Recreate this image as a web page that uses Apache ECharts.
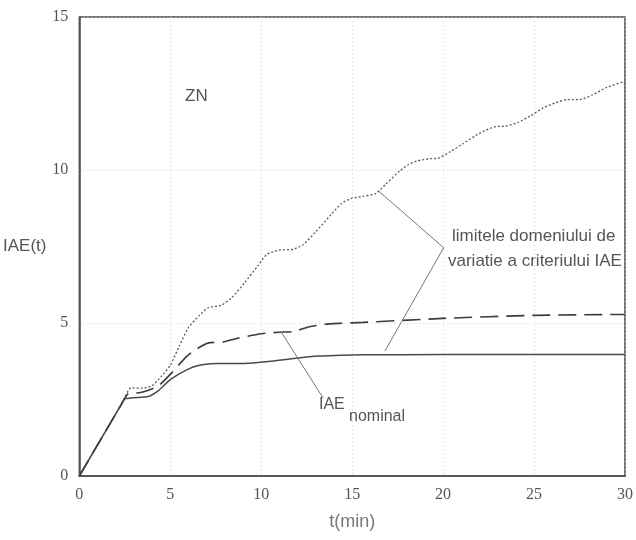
<!DOCTYPE html>
<html>
<head>
<meta charset="utf-8">
<script src="https://cdn.jsdelivr.net/npm/echarts@6/dist/echarts.min.js"></script>
<style>
  html, body { margin: 0; padding: 0; background: #fff; }
  #chart { width: 636px; height: 540px; }
</style>
</head>
<body>
<div id="chart"></div>
<script>
// Time axis (minutes) and tick labels
const xTicks = [0, 5, 10, 15, 20, 25, 30];
const yTicks = [0, 5, 10, 15];

// Upper limit of the IAE variation domain (dotted)
const upperT = [0, 2.3, 2.85, 3.5, 4.0, 4.5, 5.0, 5.5, 6.0, 6.6, 7.1, 7.8, 8.4, 9.1, 9.8, 10.3, 11.0, 11.75, 12.3, 13.0, 13.9, 14.4, 14.9, 15.6, 16.3, 16.85, 17.6, 18.1, 18.6, 19.3, 19.7, 20.4, 21.1, 21.8, 22.35, 22.9, 23.4, 24.1, 24.8, 25.5, 26.2, 26.8, 27.5, 28.2, 29.0, 30];
const upperIAE = [0, 2.33, 2.88, 2.87, 2.95, 3.25, 3.62, 4.25, 4.85, 5.25, 5.5, 5.58, 5.84, 6.33, 6.86, 7.24, 7.38, 7.41, 7.56, 7.98, 8.58, 8.9, 9.06, 9.14, 9.23, 9.54, 9.96, 10.18, 10.3, 10.37, 10.38, 10.6, 10.86, 11.13, 11.3, 11.42, 11.43, 11.55, 11.77, 12.03, 12.2, 12.3, 12.3, 12.45, 12.7, 12.9];

// Nominal IAE (dashed)
const nominalT = [0, 2.3, 2.7, 3.3, 3.8, 4.33, 5.0, 5.9, 6.45, 7.1, 7.9, 8.7, 10.0, 11.0, 11.75, 12.6, 13.5, 14.4, 15.6, 20, 25, 30];
const nominalIAE = [0, 2.33, 2.7, 2.72, 2.8, 2.94, 3.32, 3.91, 4.15, 4.35, 4.38, 4.5, 4.65, 4.7, 4.72, 4.87, 4.96, 4.99, 5.02, 5.15, 5.25, 5.28];

// Lower limit of the IAE variation domain (solid)
const lowerT = [0, 2.3, 2.5, 3.8, 4.33, 5.0, 5.9, 6.6, 7.5, 8.2, 9.1, 10.5, 11.9, 13.2, 14.4, 15.6, 20, 25, 30];
const lowerIAE = [0, 2.33, 2.52, 2.6, 2.78, 3.15, 3.47, 3.62, 3.68, 3.68, 3.68, 3.75, 3.85, 3.92, 3.95, 3.96, 3.97, 3.97, 3.97];

const pairs = (xs, ys) => xs.map((x, i) => [x, ys[i]]);

// Linear interpolation on a curve, used to anchor the leader lines
function valueAt(xs, ys, t) {
  for (let i = 1; i < xs.length; i++) {
    if (t <= xs[i]) {
      const f = (t - xs[i - 1]) / (xs[i] - xs[i - 1]);
      return ys[i - 1] + f * (ys[i] - ys[i - 1]);
    }
  }
  return ys[ys.length - 1];
}

// Leader-line anchors (time, IAE)
const limitsLabelPoint = [20.03, 7.46];
const nominalLabelPoint = [13.4, 2.55];
const upperAnchorT = 16.45;
const lowerAnchorT = 16.8;
const nominalAnchorT = 11.1;

const ink = '#4a4a4a';
const textColor = '#555';
const tickFont = { fontFamily: 'Liberation Serif', fontSize: 16, color: textColor };

const chart = echarts.init(document.getElementById('chart'), null, { renderer: 'canvas' });

chart.setOption({
  animation: false,
  backgroundColor: '#fff',
  grid: {
    left: 65, right: 5, top: 17, bottom: 64,
    show: true, borderColor: ink, borderWidth: 1.5, backgroundColor: 'transparent'
  },
  xAxis: {
    type: 'value', min: xTicks[0], max: xTicks[xTicks.length - 1], interval: 5,
    name: 't(min)', nameLocation: 'middle', nameGap: 46,
    nameTextStyle: { fontFamily: 'Liberation Sans', fontSize: 18, color: '#777', verticalAlign: 'middle' },
    axisLine: { show: true, lineStyle: { color: ink, width: 1.5 } },
    axisTick: { show: false },
    axisLabel: { ...tickFont, margin: 11 },
    splitLine: { show: true, lineStyle: { color: '#cfcfcf', type: [1, 3], width: 1 } }
  },
  yAxis: {
    type: 'value', min: yTicks[0], max: yTicks[yTicks.length - 1], interval: 5,
    name: 'IAE(t)', nameLocation: 'middle', nameGap: 36, nameRotate: 0,
    nameTextStyle: { fontFamily: 'Liberation Sans', fontSize: 17, color: textColor, align: 'center', verticalAlign: 'middle' },
    axisLine: { show: true, lineStyle: { color: ink, width: 1.5 } },
    axisTick: { show: false },
    axisLabel: { ...tickFont, margin: 11 },
    splitLine: { show: true, lineStyle: { color: '#cfcfcf', type: [1, 3], width: 1 } }
  },
  series: [
    {
      name: 'upper', type: 'line', data: pairs(upperT, upperIAE),
      symbol: 'none', smooth: 0.2,
      lineStyle: { color: '#5a5a5a', width: 1.3, type: [2, 2] }
    },
    {
      name: 'lower', type: 'line', data: pairs(lowerT, lowerIAE),
      symbol: 'none', smooth: 0.2,
      lineStyle: { color: ink, width: 1.5, type: 'solid' },
      markLine: {
        silent: true, symbol: 'none', animation: false,
        label: { show: false },
        lineStyle: { color: '#777', width: 1, type: 'solid' },
        data: [
          [{ coord: [upperAnchorT, valueAt(upperT, upperIAE, upperAnchorT)] }, { coord: limitsLabelPoint }],
          [{ coord: limitsLabelPoint }, { coord: [lowerAnchorT, valueAt(lowerT, lowerIAE, lowerAnchorT) + 0.12] }],
          [{ coord: [nominalAnchorT, valueAt(nominalT, nominalIAE, nominalAnchorT)] }, { coord: nominalLabelPoint }]
        ]
      }
    },
    {
      name: 'nominal', type: 'line', data: pairs(nominalT, nominalIAE),
      symbol: 'none', smooth: 0.2,
      lineStyle: { color: '#3c3c3c', width: 1.6, type: [18, 8] }
    }
  ],
  graphic: [
    { type: 'text', left: 185, top: 88, style: { text: 'ZN', font: '17px "Liberation Sans"', fill: textColor } },
    { type: 'text', left: 452, top: 228, style: { text: 'limitele domeniului de', font: '17px "Liberation Sans"', fill: textColor } },
    { type: 'text', left: 448, top: 253, style: { text: 'variatie a criteriului IAE', font: '17px "Liberation Sans"', fill: textColor } },
    { type: 'text', left: 319, top: 397, style: { text: 'IAE', font: '16px "Liberation Sans"', fill: textColor } },
    { type: 'text', left: 349, top: 409, style: { text: 'nominal', font: '16px "Liberation Sans"', fill: textColor } }
  ]
});
</script>
</body>
</html>
